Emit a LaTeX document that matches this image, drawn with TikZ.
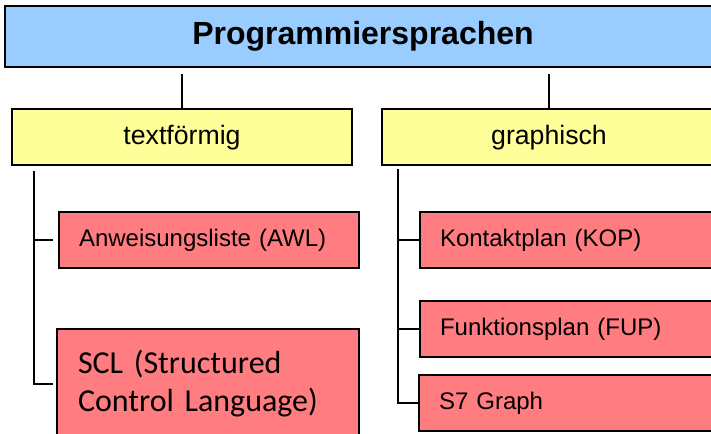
\documentclass[tikz,border=0pt]{standalone}
\usepackage{fontspec}
\setmainfont{Liberation Sans}
\newfontfamily\calibri{Carlito}
\definecolor{hblau}{RGB}{153,204,255}
\definecolor{hgelb}{RGB}{255,255,153}
\definecolor{hrot}{RGB}{255,124,128}
\begin{document}
\begin{tikzpicture}[x=.75pt, y=-.75pt,
    box/.style={draw=black, line width=1.5pt, inner sep=0pt},
    kat/.style={box, fill=hgelb, minimum height=42pt, font=\fontsize{20}{24}\selectfont},
    spr/.style={box, fill=hrot, anchor=west, minimum height=42pt, inner xsep=15pt, align=left, font=\fontsize{18}{22}\selectfont},
    ast/.style={line width=1.5pt}]
    \useasboundingbox (0,0) rectangle (711,434);
    \clip (0,0) rectangle (711,434);

    \node[box, fill=hblau, minimum width=537pt, minimum height=45.75pt, font=\bfseries\fontsize{24}{28}\selectfont] (PS) at (363,36.5) {Programmiersprachen};
    \node[kat, minimum width=255pt] (TF) at (182,137.5) {textförmig};
    \node[kat, minimum width=250.5pt] (GR) at (549,137.5) {graphisch};

    \node[spr, text width=195pt] (AWL) at (58,240) {Anweisungsliste (AWL)};
    \node[spr, text width=195pt, inner xsep=15.75pt, minimum height=82.5pt, font=\calibri\fontsize{24}{28.5}\selectfont] (SCL) at (56,384) {SCL (Structured\\Control Language)};
    \node[spr, text width=210pt] (KOP) at (419,240) {Kontaktplan (KOP)};
    \node[spr, text width=210pt] (FUP) at (419,329) {Funktionsplan (FUP)};
    \node[spr, text width=210pt] (SG) at (418,403) {S7 Graph};

    \draw[ast, shorten <=4.5pt] (TF.north |- PS.south) -- (TF.north);
    \draw[ast, shorten <=4.5pt] (GR.north |- PS.south) -- (GR.north);

    \coordinate (TFa) at ([xshift=17.25pt, yshift=-3.75pt]TF.south west);
    \coordinate (GRa) at ([xshift=12.75pt, yshift=-2.25pt]GR.south west);
    \draw[ast, shorten >=3.75pt] (TFa) |- (AWL.west);
    \draw[ast, shorten >=2.25pt] (TFa) |- (SCL.west);
    \draw[ast] (GRa) |- (KOP.west);
    \draw[ast] (GRa) |- (FUP.west);
    \draw[ast] (GRa) |- (SG.west);
\end{tikzpicture}
\end{document}
